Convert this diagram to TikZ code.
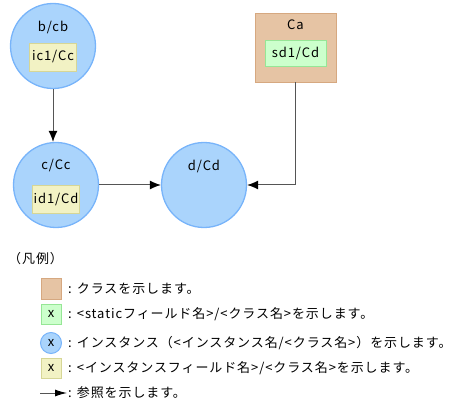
\documentclass[tikz,border=0pt]{standalone}
\usepackage{fontspec}
\setmainfont{Noto Sans CJK JP}[LetterSpace=7]
\usetikzlibrary{positioning}
\usetikzlibrary{calc}
\usetikzlibrary{arrows.meta}

\definecolor{instfill}{RGB}{170,212,252}
\definecolor{instline}{RGB}{120,180,250}
\definecolor{clsfill}{RGB}{230,196,164}
\definecolor{clsline}{RGB}{214,168,128}
\definecolor{sfill}{RGB}{204,255,204}
\definecolor{sline}{RGB}{150,230,150}
\definecolor{ifill}{RGB}{242,242,196}
\definecolor{iline}{RGB}{214,214,150}
\definecolor{refline}{RGB}{85,85,85}

\begin{document}
\begin{tikzpicture}[x=1pt,y=-1pt,font=\fontsize{13pt}{15pt}\selectfont,
  inst/.style={circle,draw=instline,fill=instfill,line width=1.3pt,minimum size=85pt,inner sep=0pt},
  cls/.style={draw=clsline,fill=clsfill,line width=0.8pt,minimum width=81pt,minimum height=69pt,inner sep=0pt},
  sfield/.style={draw=sline,fill=sfill,line width=0.8pt,minimum width=61pt,minimum height=26pt,inner sep=0pt},
  ifield/.style={draw=iline,fill=ifill,line width=0.8pt,minimum width=47pt,minimum height=28pt,inner sep=0pt},
  ref/.style={draw=refline,line width=1pt,-{Latex[color=black,length=11pt,width=9pt]}},
  txt/.style={anchor=west,inner sep=0pt}]
\useasboundingbox (0,0) rectangle (467,404);

% instances and class
\node[inst] (b) at (53,46) {};
\node at (53,27) {b/cb};
\node[ifield] (bic) at (53,57) {ic1/Cc};

\node[inst] (c) at (56,185) {};
\node at (56,166) {c/Cc};
\node[ifield] (cid) at (56,199) {id1/Cd};

\node[inst] (d) at (204,185) {};
\node at (204,166) {d/Cd};

\node[cls] (ca) at (295.5,47.5) {};
\node at (295.5,25) {Ca};
\node[sfield] (csd) at (295.5,53) {sd1/Cd};

% references
\draw[ref] (b.south) -- (b.south |- c.north);
\draw[ref] (c) -- (d);
\draw[ref] (ca.south) |- (d.east);

% legend
\node[txt] (hanrei) at (8,259) {（凡例）};

\node[cls,minimum width=20pt,minimum height=21pt] (lgcls) at (51,289) {};
\node[txt] (tcls) at (68,289) {: クラスを示します。};

\node[sfield,minimum width=20pt,minimum height=20pt] (lgs) at (51,314) {x};
\node[txt] (ts) at (68,314) {: <staticフィールド名>/<クラス名>を示します。};

\node[inst,minimum size=21pt,line width=1pt] (lgi) at (51,343) {x};
\node[txt] (ti) at (68,343) {: インスタンス（<インスタンス名/<クラス名>）を示します。};

\node[ifield,minimum width=20pt,minimum height=20pt] (lgf) at (51,368) {x};
\node[txt] (tf) at (68,368) {: <インスタンスフィールド名>/<クラス名>を示します。};

\coordinate (ra) at (40,393);
\coordinate (rb) at (67,393);
\draw[ref,-{Latex[color=black,length=12pt,width=7pt]}] (ra) -- (rb);
\node[txt] (tr) at (68,393) {: 参照を示します。};
\end{tikzpicture}
\end{document}
